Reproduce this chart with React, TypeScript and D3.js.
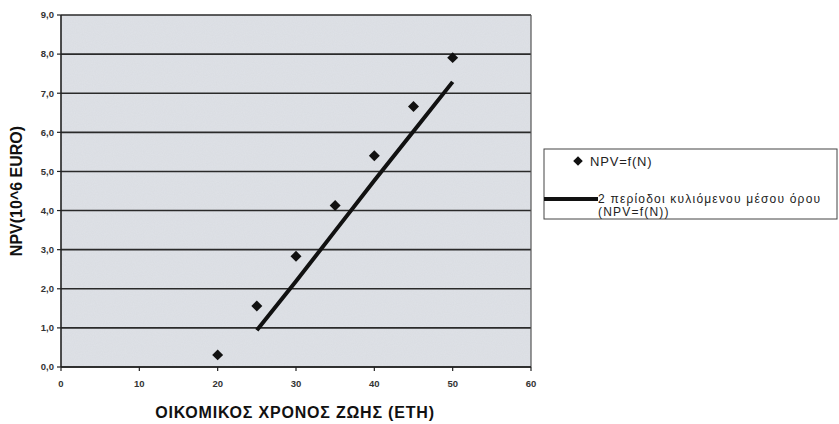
import React from "react";
import * as d3 from "d3";

const years = [20, 25, 30, 35, 40, 45, 50];
const npv = [0.31, 1.56, 2.83, 4.13, 5.4, 6.66, 7.91];
const maYears = [25, 30, 35, 40, 45, 50];
const maValues = [0.94, 2.19, 3.48, 4.77, 6.03, 7.29];
const xTicks = [0, 10, 20, 30, 40, 50, 60];
const yTicks = [0, 1, 2, 3, 4, 5, 6, 7, 8, 9];
const xTitle = "ΟΙΚΟΜΙΚΟΣ ΧΡΟΝΟΣ ΖΩΗΣ (ΕΤΗ)";
const yTitle = "NPV(10^6 EURO)";
const legend1 = "NPV=f(N)";
const legend2a = "2 περίοδοι κυλιόμενου μέσου όρου";
const legend2b = "(NPV=f(N))";

export default function App() {
  const W = 839, H = 424;
  const L = 61, R = 531, T = 15, B = 367;
  const x = d3.scaleLinear().domain([0, 60]).range([L, R]);
  const y = d3.scaleLinear().domain([0, 9]).range([B, T]);
  const diamond = d3.symbol().type(d3.symbolSquare).size(60)();
  const diamondSmall = d3.symbol().type(d3.symbolSquare).size(46)();
  const line = d3
    .line<number>()
    .x((_, i) => x(maYears[i]))
    .y((d) => y(d));
  const font = "'Liberation Sans', Arial, sans-serif";
  return (
    <svg
      width={W}
      height={H}
      style={{ position: "absolute", left: 0, top: 0, background: "#fff" }}
      fontFamily={font}
    >
      <defs>
        <filter id="noise" x="0" y="0" width="100%" height="100%">
          <feTurbulence type="fractalNoise" baseFrequency="0.9" numOctaves="2" seed="3" result="t" />
          <feColorMatrix
            in="t"
            type="matrix"
            values="0 0 0 0 0.6  0 0 0 0 0.62  0 0 0 0 0.65  0 0 0 0.3 0"
            result="c"
          />
          <feComposite in="c" in2="SourceGraphic" operator="in" result="n" />
          <feMerge>
            <feMergeNode in="SourceGraphic" />
            <feMergeNode in="n" />
          </feMerge>
        </filter>
      </defs>
      <rect x={L} y={T} width={R - L} height={B - T} fill="#dfe2e7" filter="url(#noise)" />
      {yTicks.map((t) => (
        <line key={"g" + t} x1={L} x2={R} y1={y(t)} y2={y(t)} stroke="#2a2a2a" strokeWidth={1.6} />
      ))}
      <line x1={R} x2={R} y1={T} y2={B} stroke="#555" strokeWidth={1.2} />
      <line x1={L} x2={L} y1={T} y2={B} stroke="#222" strokeWidth={1.6} />
      <line x1={L} x2={R} y1={B} y2={B} stroke="#222" strokeWidth={1.6} />
      {yTicks.map((t) => (
        <g key={"y" + t}>
          <line x1={L - 4} x2={L} y1={y(t)} y2={y(t)} stroke="#222" strokeWidth={1.2} />
          <text
            x={L - 7}
            y={y(t)}
            dy="0.35em"
            textAnchor="end"
            fontSize={9.5}
            fontWeight="bold"
            fill="#333"
          >
            {t.toFixed(1).replace(".", ",")}
          </text>
        </g>
      ))}
      {xTicks.map((t) => (
        <g key={"x" + t}>
          <line x1={x(t)} x2={x(t)} y1={B} y2={B + 4} stroke="#222" strokeWidth={1.2} />
          <text x={x(t)} y={B + 20} textAnchor="middle" fontSize={9.5} fontWeight="bold" fill="#333">
            {t}
          </text>
        </g>
      ))}
      <path d={line(maValues) || ""} fill="none" stroke="#111" strokeWidth={4} />
      {years.map((yr, i) => (
        <path
          key={"p" + i}
          d={diamond}
          transform={`translate(${x(yr)},${y(npv[i])}) rotate(45)`}
          fill="#111"
        />
      ))}
      <text
        x={295}
        y={418}
        textAnchor="middle"
        fontSize={16}
        fontWeight="bold"
        letterSpacing={0.8}
        fill="#111"
      >
        {xTitle}
      </text>
      <text
        transform={`translate(22,${(T + B) / 2}) rotate(-90)`}
        textAnchor="middle"
        fontSize={16}
        fontWeight="bold"
        fill="#111"
      >
        {yTitle}
      </text>
      <rect x={544} y={149} width={293} height={70} fill="#fff" stroke="#444" strokeWidth={1} />
      <path d={diamondSmall} transform="translate(578,161) rotate(45)" fill="#111" />
      <text x={590} y={165.5} fontSize={13} letterSpacing={0.8} fill="#222">
        {legend1}
      </text>
      <line x1={544} x2={598} y1={199} y2={199} stroke="#111" strokeWidth={4} />
      <text x={598} y={202.5} fontSize={12} letterSpacing={1.2} fill="#222">
        {legend2a}
      </text>
      <text x={598} y={216} fontSize={12} letterSpacing={1.2} fill="#222">
        {legend2b}
      </text>
    </svg>
  );
}
